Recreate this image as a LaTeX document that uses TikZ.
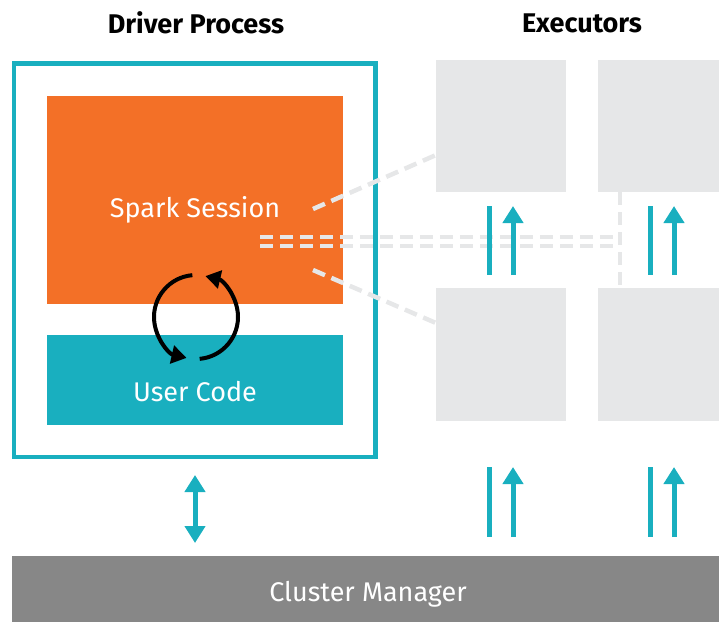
\documentclass[tikz,border=0pt]{standalone}
\usepackage{fontspec}
\setmainfont{Fira Sans}
\usepackage{tikz}
\usetikzlibrary{arrows.meta}
\definecolor{sparkorange}{HTML}{F37027}
\definecolor{sparkteal}{HTML}{19AFBF}
\definecolor{execgray}{HTML}{E6E7E8}
\definecolor{managergray}{HTML}{878787}
\tikzstyle{driver} = [rectangle, draw=sparkteal, line width=4.5pt, minimum width=361.5pt, minimum height=393.5pt, inner sep=0pt]
\tikzstyle{session} = [rectangle, fill=sparkorange, minimum width=296pt, minimum height=208pt, inner sep=0pt]
\tikzstyle{usercode} = [rectangle, fill=sparkteal, minimum width=296pt, minimum height=90pt, inner sep=0pt]
\tikzstyle{executor} = [rectangle, fill=execgray, minimum width=130pt, minimum height=132pt, inner sep=0pt]
\tikzstyle{manager} = [rectangle, fill=managergray, minimum width=707pt, minimum height=66pt, inner sep=0pt]
\tikzstyle{title} = [font=\fontsize{27}{31}\selectfont\bfseries, text=black]
\tikzstyle{boxtext} = [font=\fontsize{27}{31}\selectfont, text=white]
\tikzstyle{dashline} = [draw=execgray, line width=4.5pt, dash pattern=on 13pt off 7pt]
\tikzstyle{tealline} = [draw=sparkteal, line width=5pt]
\tikzstyle{tealarrow} = [tealline, -{Triangle[width=20pt,length=17pt]}]
\tikzstyle{tealboth} = [tealline, {Triangle[width=20pt,length=17pt]}-{Triangle[width=20pt,length=17pt]}]
\tikzstyle{looparrow} = [draw=black, line width=4pt, -{Triangle[width=18pt,length=15pt]}]

\begin{document}
\begin{tikzpicture}[x=1pt, y=1pt]
\useasboundingbox (0,0) rectangle (719,-622);

% titles
\node (drivertitle) [title] at (196,-23) {Driver Process};
\node (exectitle) [title] at (582,-23) {Executors};

% driver process
\node (driver) [driver] at (194.75,-260.25) {};
\node (session) [session] at (195,-200) {};
\node (usercode) [usercode] at (195,-380) {};
\node (sessiontext) [boxtext] at (195,-210) {Spark Session};
\node (codetext) [boxtext] at (195,-392) {User Code};

% executors
\node (exec1) [executor] at (501,-126) {};
\node (exec2) [executor, minimum width=121pt] at (658.5,-126) {};
\node (exec3) [executor, minimum height=133pt] at (501,-354.5) {};
\node (exec4) [executor, minimum width=121pt, minimum height=133pt] at (658.5,-354.5) {};

% cluster manager
\node (manager) [manager] at (365.5,-589) {};
\node (managertext) [boxtext] at (368,-594) {Cluster Manager};

% dashed links
\coordinate (s1) at (313,-209);
\coordinate (e1) at (436,-155);
\coordinate (s2) at (313,-270);
\coordinate (e3) at (436,-323);
\coordinate (h1a) at (260,-237);
\coordinate (h1b) at (615,-237);
\coordinate (h2a) at (260,-246);
\coordinate (h2b) at (615,-246);
\coordinate (v1) at (620,-192);
\coordinate (v2) at (620,-288);
\draw [dashline] (s1) -- (e1);
\draw [dashline] (s2) -- (e3);
\draw [dashline] (h1a) -- (h1b);
\draw [dashline] (h2a) -- (h2b);
\draw [dashline] (v1) -- (v2);

% loop between session and code
\coordinate (loop) at (196,-317);
\draw [looparrow] (loop) ++(95:42) arc[start angle=95, end angle=257, radius=42];
\draw [looparrow] (loop) ++(275:42) arc[start angle=275, end angle=437, radius=42];

% executor arrows
\coordinate (a1) at (489,-206);
\coordinate (a2) at (489,-275);
\coordinate (b1) at (513,-275);
\coordinate (b2) at (513,-206);
\coordinate (a3) at (650,-206);
\coordinate (a4) at (650,-275);
\coordinate (b3) at (674,-275);
\coordinate (b4) at (674,-206);
\draw [tealline] (a1) -- (a2);
\draw [tealarrow] (b1) -- (b2);
\draw [tealline] (a3) -- (a4);
\draw [tealarrow] (b3) -- (b4);

\coordinate (c1) at (489,-467);
\coordinate (c2) at (489,-537);
\coordinate (d1) at (513,-537);
\coordinate (d2) at (513,-467);
\coordinate (c3) at (650,-467);
\coordinate (c4) at (650,-537);
\coordinate (d3) at (674,-537);
\coordinate (d4) at (674,-467);
\draw [tealline] (c1) -- (c2);
\draw [tealarrow] (d1) -- (d2);
\draw [tealline] (c3) -- (c4);
\draw [tealarrow] (d3) -- (d4);

% driver to manager
\coordinate (m1) at (195,-475);
\coordinate (m2) at (195,-543);
\draw [tealboth] (m1) -- (m2);

\end{tikzpicture}
\end{document}
